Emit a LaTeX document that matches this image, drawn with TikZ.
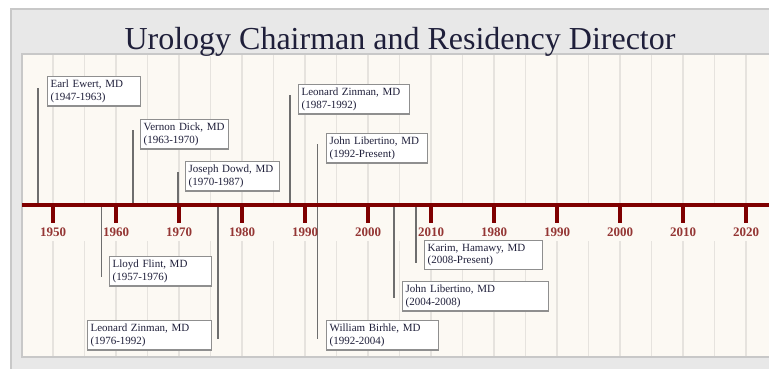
\documentclass[tikz,border=0pt]{standalone}
\usepackage{fontspec}
\setmainfont{Liberation Serif}
\usetikzlibrary{positioning}

\definecolor{panelgray}{HTML}{E8E8E8}
\definecolor{panelline}{HTML}{C8C8C8}
\definecolor{cream}{HTML}{FCF9F3}
\definecolor{gridgray}{HTML}{E6E3DE}
\definecolor{axisred}{HTML}{7F0000}
\definecolor{yearred}{HTML}{943634}
\definecolor{stemgray}{HTML}{6E6E6E}
\definecolor{boxgray}{HTML}{8F8F8F}
\definecolor{txtblue}{HTML}{1F1F3A}

\begin{document}
\begin{tikzpicture}[x=1pt, y=-1pt,
    event/.style={draw=boxgray, line width=1.2pt, fill=white, anchor=north west,
                  align=left, inner xsep=3pt, inner ysep=3.5pt, text=txtblue,
                  font=\fontsize{11}{12.5}\selectfont},
    stem/.style={draw=stemgray, line width=1.5pt},
    yearlbl/.style={text=yearred, font=\fontsize{13}{13}\selectfont\bfseries}]

\useasboundingbox (0,0) rectangle (769,368);

% Panels
\draw[fill=panelgray, draw=panelline, line width=1.5pt] (11,9) rectangle (790,390);
\draw[fill=cream, draw=panelline, line width=1.5pt] (22,54) rectangle (790,357);
\node[anchor=base, text=txtblue, font=\fontsize{32}{32}\selectfont] (title) at (400,49)
  {Urology Chairman and Residency Director};

% Grid
\foreach \g in {0,...,23}
  \draw[gridgray, line width=1.8pt] (53+31.5*\g,55) -- (53+31.5*\g,203)
                                    (53+31.5*\g,241) -- (53+31.5*\g,356);

% Stem ends
\coordinate (ewertA) at (38,205);   \coordinate (ewertT) at (38,88);
\coordinate (dickA) at (133,205);   \coordinate (dickT) at (133,130);
\coordinate (dowdA) at (178,205);   \coordinate (dowdT) at (178,172);
\coordinate (zinA) at (290,205);    \coordinate (zinT) at (290,95);
\coordinate (libA) at (317,205);    \coordinate (libT) at (317,144);
\coordinate (flintA) at (101,205);  \coordinate (flintB) at (101,277);
\coordinate (zinbA) at (218,205);   \coordinate (zinbB) at (218,339);
\coordinate (birA) at (317,205);    \coordinate (birB) at (317,339);
\coordinate (libbA) at (394,205);   \coordinate (libbB) at (394,298);
\coordinate (karA) at (416,205);    \coordinate (karB) at (416,263);

% Stems
\draw[stem] (ewertA) -- (ewertT);
\draw[stem] (dickA) -- (dickT);
\draw[stem] (dowdA) -- (dowdT);
\draw[stem] (zinA) -- (zinT);
\draw[stem, line width=1pt] (libA) -- (libT);
\draw[stem, line width=1pt] (flintA) -- (flintB);
\draw[stem] (zinbA) -- (zinbB);
\draw[stem, line width=1pt] (birA) -- (birB);
\draw[stem] (libbA) -- (libbB);
\draw[stem] (karA) -- (karB);

% Axis
\draw[axisred, line width=3.5pt] (22,205) -- (790,205);
\foreach \yr [count=\i from 0] in {1950,1960,1970,1980,1990,2000,2010,1980,1990,2000,2010,2020} {
  \draw[axisred, line width=4pt] (53+63*\i,205) -- (53+63*\i,223);
  \node[yearlbl] (yr\i) at (53+63*\i,232) {\yr};
}

% Events above
\node[event, text width=87pt] (ewert) at (47,76) {\mbox{Earl Ewert, MD}\\(1947-1963)};
\node[event, text width=82pt] (dick) at (140,119) {\mbox{Vernon Dick, MD}\\(1963-1970)};
\node[event, text width=88pt] (dowd) at (185,161) {\mbox{Joseph Dowd, MD}\\(1970-1987)};
\node[event, text width=105pt] (zinman) at (298,84) {\mbox{Leonard Zinman, MD}\\(1987-1992)};
\node[event, text width=95pt] (libertino) at (326,133) {\mbox{John Libertino, MD}\\(1992-Present)};

% Events below
\node[event, text width=96pt] (flint) at (109,256) {\mbox{Lloyd Flint, MD}\\(1957-1976)};
\node[event, text width=118pt] (zinmanb) at (87,320) {\mbox{Leonard Zinman, MD}\\(1976-1992)};
\node[event, text width=106pt] (birhle) at (326,320) {\mbox{William Birhle, MD}\\(1992-2004)};
\node[event, text width=140pt] (libertinob) at (402,281) {\mbox{John Libertino, MD}\\(2004-2008)};
\node[event, text width=112pt] (karim) at (424,240) {\mbox{Karim, Hamawy, MD}\\(2008-Present)};

\end{tikzpicture}
\end{document}
